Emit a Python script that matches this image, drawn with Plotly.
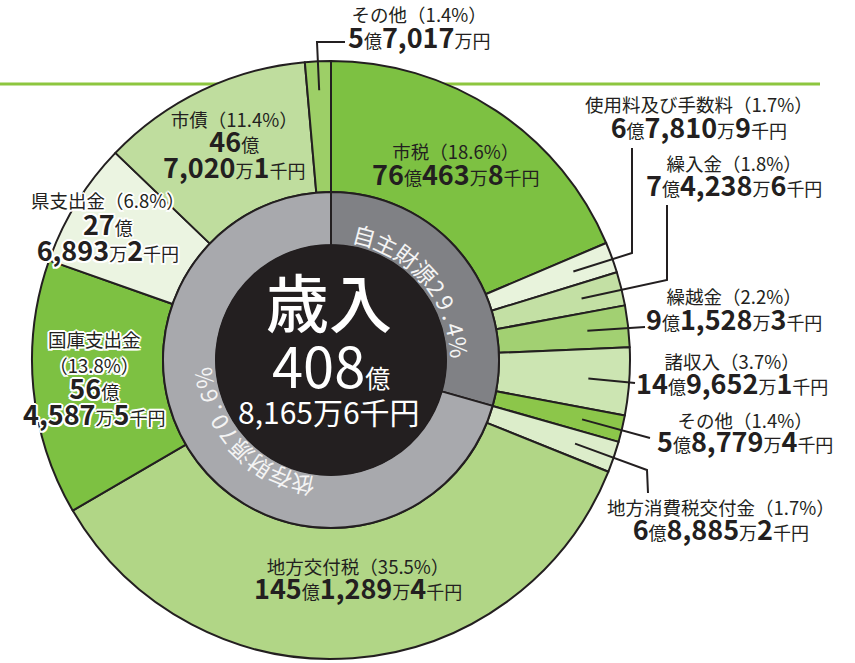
import math
import plotly.graph_objects as go

W, H = 855, 663
FONT = "Noto Sans CJK JP"
INK = "#231f20"

# ---- data ----
names = ["市税", "使用料及び手数料", "繰入金", "繰越金", "諸収入", "その他",
         "地方消費税交付金", "地方交付税", "国庫支出金", "県支出金", "市債", "その他"]
pcts = ["18.6", "1.7", "1.8", "2.2", "3.7", "1.4",
        "1.7", "35.5", "13.8", "6.8", "11.4", "1.4"]
amounts_sen = [7604638, 678109, 742386, 915283, 1496521, 587794,
               688852, 14512894, 5645875, 2768932, 4670201, 570170]  # 千円
colors = ["#7dc142", "#e8f3dc", "#c3e0a4", "#a2d072", "#cce5b2", "#8cc64a",
          "#dcedca", "#b1d686", "#7dc142", "#ebf4e1", "#bfdd9e", "#9dcf67"]

group_names = ["自主財源", "依存財源"]
group_pcts = ["29.4", "70.6"]
group_values = [29.4, 70.6]
group_colors = ["#808185", "#a8a9ad"]

total_title = "歳入"
total_sen = 40881656

# ---- geometry (pixels) ----
CX, CY = 331, 360
R_OUT, R_MID, R_IN = 299, 168, 115


def dom(r):
    return dict(x=[(CX - r) / W, (CX + r) / W],
                y=[(H - CY - r) / H, (H - CY + r) / H])


def px(x):
    return x / W


def py(y):
    return 1 - y / H


DIG = 27
KAN = 18


def big(s):
    return f"<b><span style='font-size:{DIG}px'>{s}</span></b>"


def small(s):
    return f"<span style='font-size:{KAN}px'>{s}</span>"


def title(s):
    return f"<span style='font-size:18.5px'>{s}</span>"


def amount_parts(v):
    oku = v // 100000
    man = (v % 100000) // 10
    sen = v % 10
    p1 = big(str(oku)) + small("億")
    if sen:
        p2 = big(f"{man:,}") + small("万") + big(str(sen)) + small("千円")
    else:
        p2 = big(f"{man:,}") + small("万円")
    return p1, p2


fig = go.Figure()

fig.add_trace(go.Pie(
    values=amounts_sen, labels=[f"{n}{i}" for i, n in enumerate(names)],
    marker=dict(colors=colors, line=dict(color=INK, width=2)),
    sort=False, direction="clockwise", rotation=0, hole=R_MID / R_OUT,
    textinfo="none", hoverinfo="label+percent", domain=dom(R_OUT), showlegend=False))

fig.add_trace(go.Pie(
    values=group_values, labels=group_names,
    marker=dict(colors=group_colors, line=dict(color=INK, width=2)),
    sort=False, direction="clockwise", rotation=0, hole=R_IN / R_MID,
    textinfo="none", hoverinfo="label", domain=dom(R_MID), showlegend=False))

fig.add_trace(go.Pie(
    values=[1], labels=[total_title],
    marker=dict(colors=[INK], line=dict(color=INK, width=1)),
    sort=False, textinfo="none", hoverinfo="none", domain=dom(R_IN), showlegend=False))

annotations = []
shapes = []

# green decorative rule
shapes.append(dict(type="line", xref="paper", yref="paper", x0=0, x1=px(820),
                   y0=py(84), y1=py(84), line=dict(color="#8dc63f", width=3), layer="below"))

# ---- labels ----
total = sum(amounts_sen)
cum = 0
mid_angles = []
for v in amounts_sen:
    mid_angles.append((cum + v / 2) / total * 360)
    cum += v

# mode: 2 = name(pct) / amount, 3 = name(pct) / 億 / 万, 4 = name / (pct) / 億 / 万
label_layout = {
    0: (2, (456, 165), 20, False),
    1: (2, (699, 118), 20, False),
    2: (2, (734, 177), 19, False),
    3: (2, (734, 310), 20, False),
    4: (2, (732, 375), 19.5, False),
    5: (2, (745, 433), 18.5, False),
    6: (2, (721, 521), 19.5, False),
    7: (2, (358, 580), 19, False),
    8: (4, (94, 379), 20, True),
    9: (3, (108, 228), 20.5, True),
    10: (3, (234, 146), 19.5, False),
    11: (2, (419, 29), 20, False),
}

halo = ("2px 0 0 #fff, -2px 0 0 #fff, 0 2px 0 #fff, 0 -2px 0 #fff, "
        "1.5px 1.5px 0 #fff, -1.5px -1.5px 0 #fff, 1.5px -1.5px 0 #fff, -1.5px 1.5px 0 #fff")

for i, (mode, (x, y), base, has_halo) in label_layout.items():
    p1, p2 = amount_parts(amounts_sen[i])
    if mode == 2:
        lines = [title(f"{names[i]}（{pcts[i]}%）"), p1 + p2]
    elif mode == 3:
        lines = [title(f"{names[i]}（{pcts[i]}%）"), p1, p2]
    else:
        lines = [title(names[i]), title(f"（{pcts[i]}%）"), p1, p2]
    f = dict(family=FONT, size=base, color=INK)
    if has_halo:
        f["shadow"] = halo
    annotations.append(dict(text="<br>".join(lines), x=px(x), y=py(y), xref="paper", yref="paper",
                            xanchor="center", yanchor="middle", align="center",
                            showarrow=False, font=f))

# ---- leader lines ----
R_LEAD = 258
leader_paths = {
    1: [(632, 253), (632, 148)],
    2: [(667, 280), (667, 205)],
    3: [(645, 327)],
    4: [(635, 383)],
    5: [(650, 438)],
    6: [(647, 470), (648, 493)],
    11: [(317, 42), (345, 42)],
}
for i, pts in leader_paths.items():
    a = math.radians(mid_angles[i])
    r0 = 270 if i == 11 else R_LEAD
    sx, sy = CX + r0 * math.sin(a), CY - r0 * math.cos(a)
    allp = [(sx, sy)] + pts
    d = "M " + " L ".join(f"{px(x):.5f},{py(y):.5f}" for x, y in allp)
    shapes.append(dict(type="path", xref="paper", yref="paper", path=d,
                       line=dict(color=INK, width=2)))


# ---- curved inner ring text ----
def adv(ch):
    if ch.isdigit():
        return 16.5
    if ch == ".":
        return 12
    if ch == "%":
        return 21
    return 24


R_TXT = 129
starts = [15.0, 192.5]
for g, start in zip(range(2), starts):
    s = f"{group_names[g]}{group_pcts[g]}%"
    dist = 0
    prev = None
    for ch in s:
        if prev is not None:
            dist += adv(prev) / 2 + adv(ch) / 2
        prev = ch
        ang = start + math.degrees(dist / R_TXT)
        a = math.radians(ang)
        x, y = CX + R_TXT * math.sin(a), CY - R_TXT * math.cos(a)
        annotations.append(dict(text=ch, x=px(x), y=py(y), xref="paper", yref="paper",
                                xanchor="center", yanchor="middle", showarrow=False,
                                textangle=ang, font=dict(family=FONT, size=23, color="#f4f4f4")))

# ---- center text ----
oku = total_sen // 100000
man = (total_sen % 100000) // 10
sen = total_sen % 10
annotations.append(dict(text=total_title, x=px(329), y=py(300), xref="paper", yref="paper",
                        xanchor="center", yanchor="middle", showarrow=False,
                        font=dict(family=FONT, size=63, color="white", weight=500)))
annotations.append(dict(text=f"{oku}<span style='font-size:25px'>億</span>", x=px(331), y=py(363),
                        xref="paper", yref="paper", xanchor="center", yanchor="middle", showarrow=False,
                        font=dict(family=FONT, size=56, color="white")))
annotations.append(dict(text=f"{man:,}万{sen}千円", x=px(329), y=py(411),
                        xref="paper", yref="paper", xanchor="center", yanchor="middle", showarrow=False,
                        font=dict(family=FONT, size=30, color="white")))

fig.update_layout(width=W, height=H, margin=dict(l=0, r=0, t=0, b=0),
                  paper_bgcolor="white", plot_bgcolor="white",
                  annotations=annotations, shapes=shapes, showlegend=False)

fig.write_html("out.html", config={"displayModeBar": False},
               post_script="document.body.style.margin='0px';")
